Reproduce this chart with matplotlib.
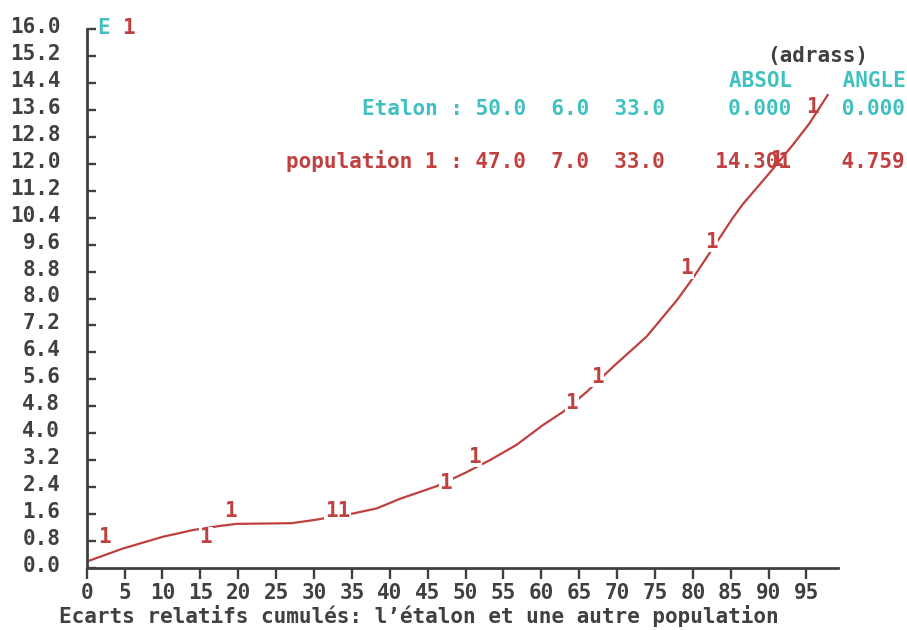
import numpy as np
import matplotlib
matplotlib.use("Agg")
import matplotlib.pyplot as plt
import matplotlib.transforms as mtransforms

# courbe : ecarts relatifs cumules, population 1 contre l'etalon
ecart_x = [0, 4.8, 10.1, 14.1, 17.6, 19.8, 27.0, 29.9, 35.2, 38.3, 41.3, 46.2, 50.1, 53.2,
           56.7, 60.2, 62.9, 66.0, 69.5, 73.9, 77.9, 80.0, 83.1, 85.3, 86.6, 90.1, 93.2,
           95.4, 97.8]
ecart_y = [0.19, 0.58, 0.93, 1.13, 1.25, 1.31, 1.33, 1.42, 1.62, 1.77, 2.05, 2.43, 2.84, 3.20,
           3.65, 4.24, 4.64, 5.23, 5.98, 6.87, 7.95, 8.60, 9.65, 10.40, 10.80, 11.72, 12.56,
           13.20, 14.04]

# les "1" poses le long de la courbe
marq_x = [2.4, 15.7, 19.0, 33.1, 47.4, 51.2, 64.0, 67.4, 79.2, 82.4, 91.1, 95.8]
marq_y = [0.91, 0.91, 1.70, 1.70, 2.53, 3.30, 4.91, 5.68, 8.90, 9.69, 12.10, 13.68]
marq_txt = ['1', '1', '1', '11', '1', '1', '1', '1', '1', '1', '1', '1']

xticks = list(range(0, 100, 5))
yticks = np.arange(0, 16.01, 0.8)

ligne_entete = "ABSOL    ANGLE"
ligne_etalon = "Etalon : 50.0  6.0  33.0     0.000    0.000"
ligne_pop = "population 1 : 47.0  7.0  33.0    14.301    4.759"
titre_x = "Ecarts relatifs cumulés: l’étalon et une autre population"

ROUGE = '#c04040'
CYAN = '#40c0c0'
GRIS = '#404040'
W, H = 907, 630
police = dict(family='DejaVu Sans Mono', weight='bold', size=15.15)

fig = plt.figure(figsize=(W / 100, H / 100), dpi=100)
ax = fig.add_axes([86.7 / W, 1 - 568 / H, (838.3 - 86.7) / W, (568 - 29) / H])

ax.plot(ecart_x, ecart_y, color=ROUGE, lw=1.6)
for mx, my, t in zip(marq_x, marq_y, marq_txt):
    fond = None
    if mx < 90:
        fond = dict(fc='white', ec='none', pad=0.5)
    ax.text(mx, my, t, color=ROUGE, ha='center', va='center', bbox=fond, **police)

ax.set_xlim(0, 99.2)
ax.set_ylim(0, 16)
ax.set_xticks(xticks)
ax.set_yticks(yticks)
ax.set_yticklabels(['%.1f' % v for v in yticks])
for s in ['top', 'right']:
    ax.spines[s].set_visible(False)
for s in ['left', 'bottom']:
    ax.spines[s].set_color(GRIS)
    ax.spines[s].set_linewidth(2)
ax.tick_params(axis='y', direction='in', length=6.5, width=1.7, color=GRIS, pad=19)
ax.tick_params(axis='x', direction='out', length=8, width=1.7, color=GRIS, pad=3)
for lab in ax.get_xticklabels() + ax.get_yticklabels():
    lab.set_fontfamily('DejaVu Sans Mono')
    lab.set_fontweight('bold')
    lab.set_fontsize(15.15)
    lab.set_color(GRIS)
decal = mtransforms.ScaledTranslation(0, 4 / 100, fig.dpi_scale_trans)
for lab in ax.get_yticklabels():
    lab.set_transform(lab.get_transform() + decal)

def px(x, y):
    return x / W, 1 - y / H

fig.text(*px(97, 33.6), 'E', color=CYAN, ha='left', va='baseline', **police)
fig.text(*px(122, 33.6), '1', color=ROUGE, ha='left', va='baseline', **police)
fig.text(*px(767, 61.7), '(adrass)', color=GRIS, ha='left', va='baseline', **police)
fig.text(*px(729, 87), ligne_entete, color=CYAN, ha='left', va='baseline', **police)
fig.text(*px(362, 114.6), ligne_etalon, color=CYAN, ha='left', va='baseline', **police)
fig.text(*px(286, 167.6), ligne_pop, color=ROUGE, ha='left', va='baseline', **police)
fig.text(*px(59, 623), titre_x, color=GRIS, ha='left', va='baseline', **police)

fig.savefig('out.png', dpi=100)
